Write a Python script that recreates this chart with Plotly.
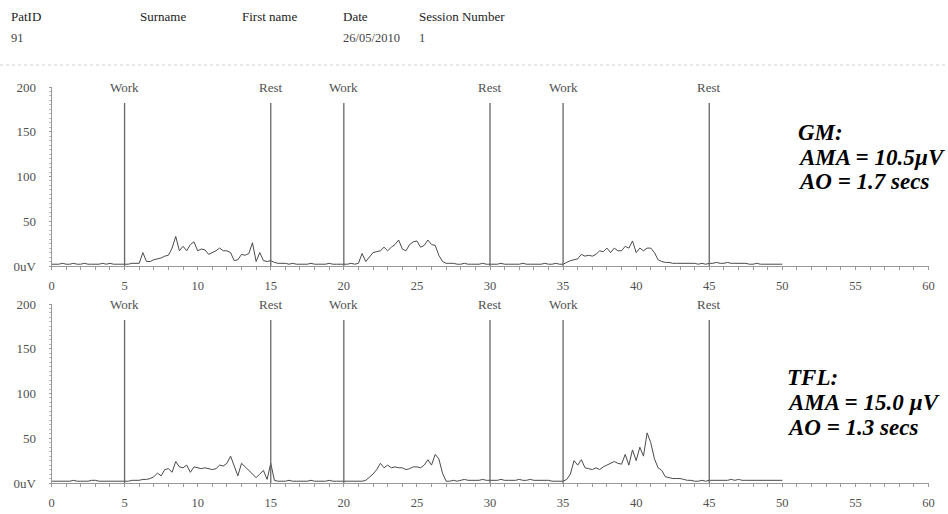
import numpy as np
import plotly.graph_objects as go

# ---- Data -------------------------------------------------------------
# Rectified EMG amplitude (uV), sampled every 0.25 s from 0 to 50 s
sample_step = 0.25
gm_uv = [
    2, 2, 2, 3,  2, 2, 3, 2,  2, 3, 2, 2,  2, 2, 3, 2,  3, 2, 2, 2,
    2, 2, 3, 3,  3, 15, 5, 5,  7, 8, 9, 11,  12, 20, 33, 17,  22, 17, 24, 27,
    17, 19, 18, 13,  15, 17, 20, 17,  17, 15, 6, 7,  13, 12, 14, 26,  5, 15, 6, 5,
    6, 4, 3, 3,  3, 2, 3, 2,  2, 2, 2, 3,  2, 2, 2, 2,  3, 2, 2, 2,
    2, 2, 3, 2,  3, 14, 5, 10,  15, 16, 17, 21,  17, 21, 24, 29,  19, 17, 24, 27,
    28, 21, 23, 29,  24, 23, 12, 5,  3, 3, 3, 2,  2, 3, 2, 2,  2, 2, 3, 2,
    2, 2, 2, 3,  2, 2, 2, 2,  2, 3, 2, 2,  2, 2, 2, 3,  2, 2, 3, 2,
    2, 4, 6, 7,  8, 13, 11, 12,  11, 13, 17, 16,  20, 15, 20, 17,  17, 22, 20, 28,
    15, 20, 17, 20,  20, 15, 7, 5,  4, 4, 3, 3,  3, 3, 3, 3,  3, 2, 3, 2,
    3, 3, 4, 3,  3, 4, 3, 3,  3, 3, 3, 2,  2, 3, 2, 2,  2, 2, 2, 2,
    2,
]
tfl_uv = [
    2, 2, 2, 2,  2, 2, 3, 2,  2, 2, 2, 3,  3, 2, 2, 2,  2, 2, 2, 2,
    2, 2, 3, 3,  3, 4, 4, 5,  7, 11, 8, 15,  16, 12, 24, 18,  17, 20, 12, 18,
    17, 16, 17, 16,  15, 16, 20, 19,  22, 30, 20, 8,  22, 18, 15, 11,  6, 10, 14, 4,
    22, 3, 2, 2,  2, 3, 2, 2,  2, 2, 2, 3,  2, 2, 2, 2,  3, 2, 2, 2,
    2, 2, 2, 2,  2, 2, 3, 6,  10, 15, 22, 17,  20, 17, 18, 17,  17, 15, 16, 18,
    18, 17, 20, 26,  20, 32, 27, 11,  2, 2, 3, 2,  3, 4, 3, 3,  3, 3, 4, 3,
    3, 3, 3, 4,  3, 3, 3, 3,  4, 3, 3, 4,  3, 3, 3, 3,  3, 2, 2, 2,
    2, 4, 10, 25,  20, 26, 17, 16,  15, 17, 15, 18,  20, 22, 24, 22,  21, 32, 20, 37,
    25, 40, 30, 56,  45, 27, 17, 14,  7, 6, 5, 5,  5, 4, 3, 3,  2, 2, 3, 2,
    3, 3, 3, 3,  3, 3, 4, 3,  4, 3, 3, 3,  3, 3, 3, 3,  3, 3, 3, 3,
    3,
]
time_s = np.arange(len(gm_uv)) * sample_step

# Protocol markers
marker_times = [5, 15, 20, 30, 35, 45]
marker_labels = ["Work", "Rest", "Work", "Rest", "Work", "Rest"]
marker_height = 182

# Axis ticks
x_ticks = list(range(0, 61, 5))
y_ticks = [0, 50, 100, 150, 200]
y_ticktext = ["0uV", "50", "100", "150", "200"]

# Header block
header_fields = ["PatID", "Surname", "First name", "Date", "Session Number"]
header_values = ["91", "", "", "26/05/2010", "1"]

# Summary text per muscle
gm_summary = ["GM:", "AMA = 10.5\u00b5V", "AO = 1.7 secs"]
tfl_summary = ["TFL:", "AMA = 15.0 \u00b5V", "AO = 1.3 secs"]

# ---- Layout helpers ---------------------------------------------------
W, H = 948, 514
SERIF = "Liberation Serif, Times New Roman, serif"


def fx(px):
    return px / W


def fy(py):
    return 1 - py / H


x_dom = [fx(51.5), fx(928.5)]
top_dom = [fy(266), fy(87)]
bot_dom = [fy(483), fy(304)]

trace_col = "#4a4a4a"
axis_col = "#9a9a9a"
text_col = "#505050"

fig = go.Figure()

for series, xa, ya in [(gm_uv, "x", "y"), (tfl_uv, "x2", "y2")]:
    fig.add_trace(go.Scatter(
        x=time_s, y=series, mode="lines", xaxis=xa, yaxis=ya,
        line=dict(color=trace_col, width=1), showlegend=False,
        hoverinfo="skip",
    ))

shapes = []
annotations = []
for xref, yref in [("x", "y"), ("x2", "y2")]:
    for t, lab in zip(marker_times, marker_labels):
        shapes.append(dict(type="line", xref=xref, yref=yref, x0=t, x1=t,
                           y0=0, y1=marker_height,
                           line=dict(color="#666666", width=1.3)))
        annotations.append(dict(xref=xref, yref=yref, x=t, y=200, text=lab,
                                showarrow=False, xanchor="center",
                                yanchor="middle",
                                font=dict(family=SERIF, size=13,
                                          color=text_col)))

# Dotted separator under the header
shapes.append(dict(type="line", xref="paper", yref="paper", x0=0, x1=1,
                   y0=fy(65), y1=fy(65),
                   line=dict(color="#d0d0d0", width=1, dash="dot")))

header_x = [9, 138, 240, 341, 417]
for hx, f, v in zip(header_x, header_fields, header_values):
    annotations.append(dict(xref="paper", yref="paper", x=fx(hx), y=fy(16),
                            text=f, showarrow=False, xanchor="left",
                            yanchor="middle",
                            font=dict(family=SERIF, size=13, color="#222222"),
                            ))
    if v:
        annotations.append(dict(xref="paper", yref="paper", x=fx(hx),
                                y=fy(38), text=v, showarrow=False,
                                xanchor="left", yanchor="middle",
                                font=dict(family=SERIF, size=12.5,
                                          color="#444444")))

for lines, x0, ys in [(gm_summary, 796, [133, 157, 181]),
                      (tfl_summary, 785, [377, 402, 427])]:
    for txt, yy in zip(lines, ys):
        annotations.append(dict(xref="paper", yref="paper", x=fx(x0),
                                y=fy(yy), text=f"<b><i>{txt}</i></b>",
                                showarrow=False, xanchor="left",
                                yanchor="middle",
                                font=dict(family=SERIF, size=23,
                                          color="#000000")))


def xaxis_cfg(anchor):
    return dict(
        domain=x_dom, anchor=anchor, range=[0, 60], automargin=False,
        showline=True, linecolor=axis_col, linewidth=1,
        showgrid=False, zeroline=False,
        tickmode="array", tickvals=x_ticks,
        ticks="outside", ticklen=3, tickcolor=axis_col,
        ticklabelstandoff=5,
        minor=dict(dtick=1, ticks="outside", ticklen=3, tickcolor=axis_col),
        tickfont=dict(family=SERIF, size=12.5, color=text_col),
    )


def yaxis_cfg(anchor, dom):
    return dict(
        domain=dom, anchor=anchor, range=[0, 200], automargin=False,
        showline=True, linecolor=axis_col, linewidth=1,
        showgrid=False, zeroline=False,
        tickmode="array", tickvals=y_ticks, ticktext=y_ticktext,
        ticks="outside", ticklen=2, tickcolor=axis_col,
        ticklabelstandoff=10,
        minor=dict(dtick=5, ticks="outside", ticklen=2, tickcolor="#bbbbbb"),
        tickfont=dict(family=SERIF, size=13, color=text_col),
    )


fig.update_layout(
    width=W, height=H,
    margin=dict(l=0, r=0, t=0, b=0, pad=0),
    paper_bgcolor="white", plot_bgcolor="white",
    xaxis=xaxis_cfg("y"), yaxis=yaxis_cfg("x", top_dom),
    xaxis2=xaxis_cfg("y2"), yaxis2=yaxis_cfg("x2", bot_dom),
    shapes=shapes, annotations=annotations,
)

fig.write_html("out.html")
